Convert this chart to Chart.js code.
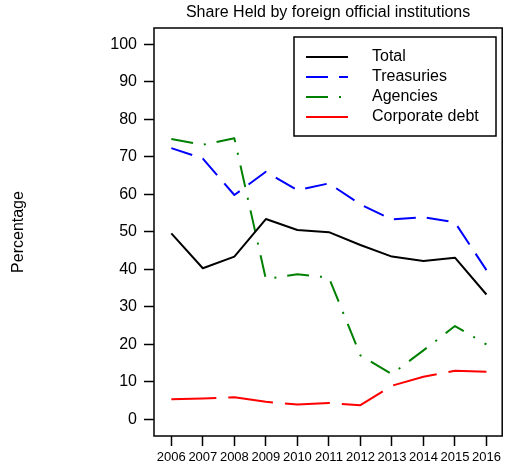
<!DOCTYPE html>
<html lang="en">
<head>
    <meta charset="UTF-8">
    <title>Share Held by foreign official institutions</title>
    <script src="https://cdn.jsdelivr.net/npm/chart.js"></script>
    <style>
        body {
            margin: 0;
            background-color: #ffffff;
        }
        canvas {
            display: block;
        }
    </style>
</head>
<body>
    <canvas id="chart" width="505" height="470"></canvas>
    <script>
        const years = [2006, 2007, 2008, 2009, 2010, 2011, 2012, 2013, 2014, 2015, 2016];
        const yTicks = [0, 10, 20, 30, 40, 50, 60, 70, 80, 90, 100];
        const total = [49.6, 40.3, 43.4, 53.4, 50.5, 49.9, 46.5, 43.4, 42.2, 43.1, 33.3];
        const treasuries = [72.3, 69.5, 59.8, 66.0, 61.1, 62.9, 57.3, 53.3, 53.9, 52.5, 39.8];
        const agencies = [74.7, 73.2, 74.9, 37.4, 38.7, 37.8, 17.1, 12.1, 18.4, 24.9, 20.0];
        const corporate = [5.4, 5.6, 5.9, 4.7, 4.0, 4.4, 3.8, 9.0, 11.4, 13.0, 12.7];

        const FONT = '"Liberation Sans", Arial, sans-serif';
        const toPoints = (vals) => vals.map((v, i) => ({ x: years[i], y: v }));

        // box, title, y label and legend drawn like the R base plot
        const framePlugin = {
            id: 'frame',
            afterDraw(chart) {
                const { ctx, chartArea: a } = chart;
                ctx.save();
                ctx.strokeStyle = '#000';
                ctx.lineWidth = 1.5;
                ctx.strokeRect(a.left, a.top, a.right - a.left, a.bottom - a.top);

                ctx.fillStyle = '#000';
                ctx.font = '16px ' + FONT;
                ctx.textAlign = 'center';
                ctx.textBaseline = 'middle';
                ctx.fillText('Share Held by foreign official institutions', (a.left + a.right) / 2, 13);

                ctx.save();
                ctx.translate(19, 232);
                ctx.rotate(-Math.PI / 2);
                ctx.fillText('Percentage', 0, 0);
                ctx.restore();

                // legend
                ctx.lineWidth = 1.5;
                ctx.strokeRect(294, 37, 202, 99);
                ctx.textAlign = 'left';
                chart.data.datasets.forEach((ds, i) => {
                    const y = 57 + i * 20;
                    ctx.beginPath();
                    ctx.setLineDash(ds.borderDash || []);
                    ctx.strokeStyle = ds.borderColor;
                    ctx.lineWidth = 2;
                    ctx.moveTo(306, y);
                    ctx.lineTo(348, y);
                    ctx.stroke();
                    ctx.setLineDash([]);
                    ctx.fillText(ds.label, 372, y);
                });
                ctx.restore();
            }
        };

        const ctx = document.getElementById('chart').getContext('2d');
        const chart = new Chart(ctx, {
            type: 'line',
            data: {
                datasets: [
                    { label: 'Total', data: toPoints(total), borderColor: '#000000' },
                    { label: 'Treasuries', data: toPoints(treasuries), borderColor: '#0000ff', borderDash: [22, 11] },
                    { label: 'Agencies', data: toPoints(agencies), borderColor: '#008000', borderDash: [22, 11, 2, 11] },
                    { label: 'Corporate debt', data: toPoints(corporate), borderColor: '#ff0000', borderDash: [45, 12] }
                ]
            },
            options: {
                responsive: false,
                animation: false,
                elements: {
                    line: { borderWidth: 2, tension: 0, borderCapStyle: 'butt', borderJoinStyle: 'round' },
                    point: { radius: 0 }
                },
                layout: { padding: { top: 28, right: 2, left: 0, bottom: 0 } },
                plugins: {
                    legend: { display: false },
                    title: { display: false },
                    tooltip: { enabled: false }
                },
                scales: {
                    x: {
                        type: 'linear',
                        min: 2005.45,
                        max: 2016.5,
                        afterBuildTicks: (s) => { s.ticks = years.map(v => ({ value: v })); },
                        afterFit: (s) => { s.height = 34; },
                        border: { display: false },
                        grid: { drawOnChartArea: false, drawTicks: true, tickLength: 10, tickColor: '#000', tickWidth: 1.5 },
                        ticks: {
                            color: '#000',
                            font: { family: FONT, size: 13 },
                            padding: 4,
                            maxRotation: 0,
                            autoSkip: false,
                            callback: (v) => String(v)
                        }
                    },
                    y: {
                        min: -4.4,
                        max: 104.3,
                        afterBuildTicks: (s) => { s.ticks = yTicks.map(v => ({ value: v })); },
                        afterFit: (s) => { s.width = 154; },
                        border: { display: false },
                        grid: { drawOnChartArea: false, drawTicks: true, tickLength: 10, tickColor: '#000', tickWidth: 1.5 },
                        ticks: {
                            color: '#000',
                            font: { family: FONT, size: 16 },
                            padding: 7,
                            autoSkip: false,
                            callback: (v) => String(v)
                        }
                    }
                }
            },
            plugins: [framePlugin]
        });
    </script>
</body>
</html>
